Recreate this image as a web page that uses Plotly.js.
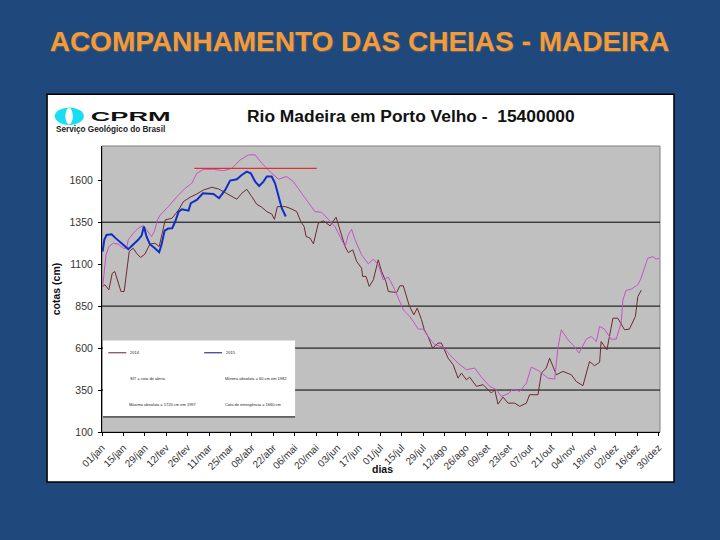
<!DOCTYPE html>
<html>
<head>
<meta charset="utf-8">
<script src="https://cdn.plot.ly/plotly-3.0.1.min.js"></script>
<style>html,body{margin:0;padding:0;background:#1F497D}</style>
</head>
<body>
<div id="chart" style="width:720px;height:540px"></div>
<script>
// Day of year (0 = 01/jan) and stage in cm.
const tickDays = [0,14,28,42,56,70,84,98,112,126,140,154,168,182,196,210,224,238,252,266,280,294,308,322,336,350,364];
const tickLabels = ['01/jan','15/jan','29/jan','12/fev','26/fev','11/mar','25/mar','08/abr','22/abr','06/mai','20/mai','03/jun','17/jun','01/jul','15/jul','29/jul','12/ago','26/ago','09/set','23/set','07/out','21/out','04/nov','18/nov','02/dez','16/dez','30/dez'];
const yTicks = [100,350,600,850,1100,1350,1600];
const gridValues = [350,600,850,1350];

const brownDays = [0.4,1.9,4.5,6.7,8.4,10.2,12.4,14.5,16.1,17.8,20.4,22.6,25.2,28,31.3,34.6,37.4,41.4,45.7,50.1,53.3,57.7,62,66.4,71.8,76.2,80.6,84.9,88.2,91.4,94.7,98,101.2,104.5,107.8,111,112.8,114.7,119.8,123,127.4,130,132.2,133.5,136.1,138.3,141.5,144.8,149.2,153.1,155.7,159,161.1,164,166.6,169.8,170.5,172.7,174.8,177.5,180.7,182.9,185.7,187.3,192.7,194.9,197.1,199.2,201,204,206.2,209,210.8,213.3,216.2,219.9,222,226.4,229.7,232.9,235.1,238.4,240.5,244.9,249.3,254.7,256.9,259,262.3,265.6,269.9,273.2,277.6,279.7,285.2,287.4,290.6,292.8,297.2,301.5,307,310.2,314.6,318.9,322.2,325.5,326.5,330.3,334.2,337.4,341.8,345,348.9,350.5,352.8];
const brownCota = [967,977,947,1046,1056,1007,937,937,1056,1175,1195,1165,1140,1159,1219,1225,1205,1364,1373,1423,1473,1499,1518,1542,1558,1548,1526,1502,1487,1522,1546,1502,1457,1439,1413,1399,1367,1443,1443,1433,1413,1354,1324,1265,1255,1221,1344,1358,1328,1380,1304,1205,1169,1185,1116,1076,1027,1027,967,1007,1126,1056,997,937,931,971,971,907,852,798,838,769,709,669,600,630,630,540,501,421,451,411,427,372,382,332,352,266,308,272,272,253,272,322,322,451,481,540,441,461,441,401,376,520,495,515,639,590,778,778,709,713,788,907,945];

const magentaDays = [0.6,1.5,2.6,4.6,7.4,10.7,13.9,16.1,17.2,20.4,23.7,27,29.8,32.4,34.2,36.3,38.1,43.5,49,54.4,58.8,62,66.4,72.9,79.5,84.9,90.4,95.8,100.2,104.5,110,115.4,120.8,125.2,130.6,135,139.3,143.7,148,152.4,155.7,159,161.1,163.3,165.5,169.8,174.2,177.5,180.7,184,187.3,190.5,193.8,197.1,201.4,206.9,210.1,214.5,217.7,223.1,227.5,232.9,238.4,243.8,248.2,253.6,258,261.2,265.6,268.9,273.2,277.6,280.8,286.3,291.7,296.1,298.2,300.4,304.8,308,312,316.8,320,323.3,325.5,328.7,333.1,336.3,339.6,340.7,342.8,346.1,350.5,352.6,354.8,357,360.3,362.4,364.6];
const magentaCota = [977,1056,1155,1205,1225,1219,1195,1195,1245,1284,1314,1330,1294,1265,1294,1364,1393,1443,1502,1552,1582,1641,1665,1665,1657,1671,1721,1751,1751,1701,1651,1606,1622,1592,1522,1463,1413,1409,1364,1324,1265,1205,1275,1308,1245,1156,1102,1130,1096,1007,1023,967,898,828,788,713,713,654,620,606,560,510,471,481,427,372,352,312,328,356,342,391,487,461,421,415,600,709,649,620,570,653,669,639,729,713,653,653,749,887,943,951,977,1016,1076,1135,1145,1130,1135];

const blueDays = [0.4,1.5,3,6.3,8.9,11.7,13.9,17.2,20.4,23.7,25.9,27.4,29.1,31.3,34.6,37.4,38.9,41,43.3,45.9,47.9,50.1,52.3,56.6,58.1,62,66,69.7,72.9,76.6,80.6,83.8,88.2,91.4,94.7,97.3,100.2,102.8,105.6,107.8,111,113.2,115.4,117.6,120.2];
const blueCota = [1175,1245,1274,1278,1255,1235,1215,1189,1215,1245,1270,1324,1265,1219,1195,1171,1215,1300,1312,1314,1354,1413,1427,1419,1463,1483,1522,1518,1518,1493,1542,1598,1606,1631,1651,1641,1592,1566,1592,1622,1622,1582,1503,1433,1384];

const redDays = [60.5,140.4];
const redCota = [1671,1671];

const mainTitle = 'ACOMPANHAMENTO DAS CHEIAS - MADEIRA';
const chartTitle = 'Rio Madeira em Porto Velho -\u00A0\u00A015400000';
const legendTexts = ['SIT = cota de alerta','Mínima absoluta = 60 cm em 1982','Máxima absoluta = 1720 cm em 1997','Cota de emergência = 1660 cm'];

const L=101.7, R=660.3, T=146, B=432.3;
const fx = x => (x-L)/(R-L);
const fy = y => 1-(y-T)/(B-T);
const rect = (x0,y0,x1,y1,fill,line,w,type) => ({type:type||'rect',xref:'paper',yref:'paper',x0:fx(x0),x1:fx(x1),y0:fy(y0),y1:fy(y1),fillcolor:fill,line:{color:line||fill,width:w===undefined?0:w},layer:'below'});
const seg = (x0,y0,x1,y1,color,w) => ({type:'line',xref:'paper',yref:'paper',x0:fx(x0),x1:fx(x1),y0:fy(y0),y1:fy(y1),line:{color:color,width:w},layer:'above'});
const note = (text,x,y,size,opt) => Object.assign({text:text,xref:'paper',yref:'paper',x:fx(x),y:fy(y),xanchor:'left',yanchor:'middle',showarrow:false,font:{family:'Liberation Sans',size:size,color:'#222'}},opt||{});

const shapes = [
  rect(46.7,94.3,674.3,482.3,'#FFFFFF','#000000',1.5),
  rect(L,T,R,B,'#C0C0C0','#808080',1),
  ...gridValues.map(v => ({type:'line',xref:'paper',yref:'y',x0:0,x1:1,y0:v,y1:v,line:{color:'#000',width:1},layer:'below'})),
  rect(54.5,107.5,83.5,125,'#19DDF0',null,0,'circle'),
  rect(65,108,72.5,124.5,'#FFFFFF',null,0,'circle'),
  Object.assign(rect(102.7,340.7,295,417,'#FFFFFF'),{layer:'above'}),
  seg(102.7,417.2,295,417.2,'#000',1),
  seg(108,353,126,353,'#6B1F2A',1),
  seg(204,353,222,353,'#10107A',1)
];

const annotations = [
  note(chartTitle,245,116,17.4,{font:{family:'Liberation Sans',size:17.4,color:'#111',weight:'bold'}}),
  note('CPRM',110.5,116.5,12,{font:{family:'Liberation Sans',size:12,color:'#111',weight:'bold'}}),
  note('Serviço Geológico do Brasil',53.5,129,8.2,{font:{family:'Liberation Sans',size:8.2,color:'#222',weight:'bold'}}),
  note('dias',370,469.5,10.5,{font:{family:'Liberation Sans',size:10.5,color:'#111',weight:'bold'}}),
  note('2014',128,353,4),
  note('2015',224,353,4),
  note(legendTexts[0],128,379,4),
  note(legendTexts[1],223,379,4),
  note(legendTexts[2],127,405,4),
  note(legendTexts[3],223,405,4)
];

const traces = [
  {x:brownDays,y:brownCota,name:'2014',mode:'lines',line:{color:'#6E2A2E',width:1}},
  {x:magentaDays,y:magentaCota,name:'cheia',mode:'lines',line:{color:'#C653C8',width:1}},
  {x:redDays,y:redCota,name:'alerta',mode:'lines',line:{color:'#E0302A',width:1.3}},
  {x:blueDays,y:blueCota,name:'2015',mode:'lines',line:{color:'#0F2FC4',width:2}}
];

const layout = {
  width:720,height:540,
  margin:{l:L,r:720-R,t:T,b:540-B,pad:0},
  paper_bgcolor:'#1F497D',
  plot_bgcolor:'rgba(0,0,0,0)',
  showlegend:false,
  title:{text:mainTitle,x:0.4993,xanchor:'center',xref:'container',y:1-41/540,yref:'container',yanchor:'middle',
    font:{family:'Liberation Sans',size:28,color:'#F59A38',weight:'bold',shadow:'1px 1px 1px #666'}},
  xaxis:{range:[0,365],tickmode:'array',tickvals:tickDays,ticktext:tickLabels,tickangle:-45,ticks:'outside',ticklen:3,tickcolor:'#000',ticklabelstandoff:2,
    showgrid:false,zeroline:false,showline:true,linecolor:'#000',linewidth:1,
    tickfont:{family:'Liberation Sans',size:10,color:'#333'}},
  yaxis:{range:[100,1804],tickmode:'array',tickvals:yTicks,ticks:'outside',ticklen:3,tickcolor:'#000',ticklabelstandoff:3,
    showgrid:false,zeroline:false,showline:true,linecolor:'#000',linewidth:1,
    tickfont:{family:'Liberation Sans',size:10.5,color:'#333'},
    title:{text:'cotas (cm)',standoff:6,font:{family:'Liberation Sans',size:10.5,color:'#111',weight:'bold'}}},
  shapes:shapes,
  annotations:annotations
};

Plotly.newPlot('chart',traces,layout,{displayModeBar:false,staticPlot:true}).then(() => {
  document.querySelectorAll('.annotation-text').forEach(t => {
    if (t.textContent === 'CPRM') { t.setAttribute('textLength','80'); t.setAttribute('lengthAdjust','spacingAndGlyphs'); }
  });
});
</script>
</body>
</html>
